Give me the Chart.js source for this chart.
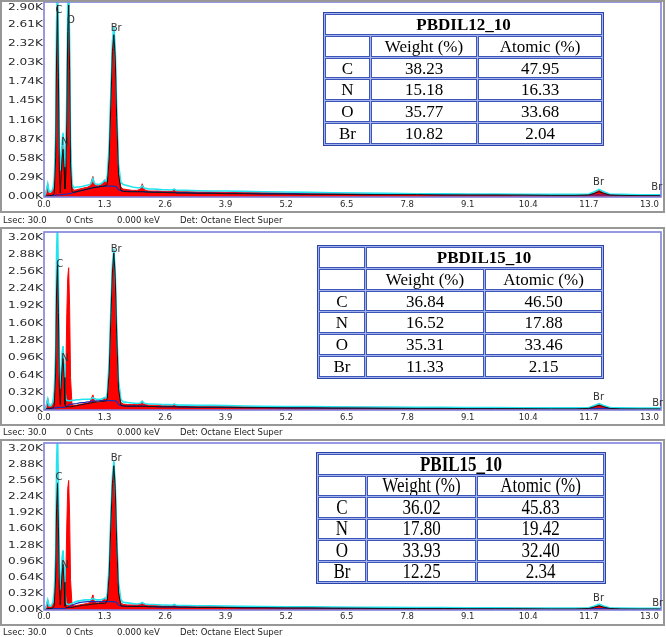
<!DOCTYPE html>
<html><head><meta charset="utf-8">
<script src="https://cdn.jsdelivr.net/npm/chart.js@4.4.0/dist/chart.umd.min.js"></script>
<style>
body{margin:0;background:#fff;}
#fig{position:relative;width:666px;height:637px;overflow:hidden;background:#fff;font-family:"DejaVu Sans",sans-serif;}
.frame{position:absolute;left:0;width:665px;border:2px solid #979797;box-sizing:border-box;pointer-events:none;}
canvas{position:absolute;left:0;}
.info{position:absolute;font-size:8.5px;color:#222;white-space:pre;line-height:10px;}
table.t{position:absolute;border-collapse:separate;border-spacing:1px;border:1px solid #2c44a8;background:#a3b3ec;font-family:"Liberation Serif","Times New Roman",serif;color:#000;table-layout:fixed;}
table.t td{border:1px solid #3d55b8;background:#fff;text-align:center;padding:0;line-height:1;white-space:nowrap;overflow:hidden;}
table.t td.title{font-weight:bold;}
table.t.tall td span{display:inline-block;transform:scaleY(1.25);}
</style></head>
<body><div id="fig"></div>
<script>
// ---------- data ----------
const energy = [0.00,0.04,0.08,0.11,0.15,0.19,0.22,0.25,0.27,0.29,
 0.31,0.33,0.35,0.37,0.39,0.41,0.43,0.45,0.47,0.49,
 0.51,0.53,0.55,0.57,0.60,0.64,0.70,0.76,0.82,0.88,
 0.94,0.99,1.02,1.05,1.08,1.12,1.17,1.22,1.26,1.30,
 1.33,1.36,1.40,1.44,1.47,1.50,1.53,1.56,1.60,1.65,
 1.70,1.80,1.90,2.00,2.07,2.11,2.14,2.18,2.25,2.35,
 2.45,2.55,2.65,2.75,2.80,2.84,2.90,3.05,3.30,3.60,
 3.90,4.30,4.70,5.20,5.70,6.20,6.80,7.40,8.00,8.60,
 9.10,9.70,10.30,10.90,11.40,11.70,11.82,11.92,12.02,12.15,
 12.40,12.80,13.25];

const xTickValues = [0,1.3,2.6,3.9,5.2,6.5,7.8,9.1,10.4,11.7,13.0];
const xTickLabels = ["0.0","1.3","2.6","3.9","5.2","6.5","7.8","9.1","10.4","11.7","13.0"];
const yTicks1 = [0,0.29,0.58,0.87,1.16,1.45,1.74,2.03,2.32,2.61,2.90];
const yTickLabels1 = ["0.00K","0.29K","0.58K","0.87K","1.16K","1.45K","1.74K","2.03K","2.32K","2.61K","2.90K"];
const yTicks23 = [0,0.32,0.64,0.96,1.28,1.60,1.92,2.24,2.56,2.88,3.20];
const yTickLabels23 = ["0.00K","0.32K","0.64K","0.96K","1.28K","1.60K","1.92K","2.24K","2.56K","2.88K","3.20K"];

// Panel 1 (PBDIL12_10), counts in K
const p1Spectrum = [0.00,0.06,0.20,0.05,0.06,0.10,0.22,0.85,2.35,2.98,
 2.05,0.65,0.35,0.50,0.70,0.80,0.55,0.35,0.55,1.40,
 2.65,2.98,2.15,0.75,0.15,0.10,0.11,0.12,0.13,0.14,
 0.15,0.17,0.24,0.31,0.20,0.17,0.17,0.18,0.21,0.26,
 0.21,0.28,0.70,1.60,2.25,2.50,2.15,1.30,0.45,0.15,
 0.12,0.11,0.10,0.10,0.12,0.20,0.14,0.10,0.09,0.09,
 0.09,0.085,0.085,0.085,0.12,0.085,0.08,0.08,0.075,0.075,
 0.07,0.07,0.065,0.06,0.06,0.055,0.05,0.05,0.045,0.045,
 0.04,0.035,0.035,0.03,0.03,0.035,0.07,0.10,0.07,0.035,
 0.03,0.025,0.025];
const p1Cyan = [0.00,0.06,0.20,0.08,0.08,0.12,0.25,0.95,2.65,3.20,
 2.35,0.75,0.40,0.60,0.85,0.97,0.70,0.40,0.65,1.60,
 2.85,3.20,2.35,0.85,0.20,0.14,0.15,0.15,0.16,0.17,
 0.18,0.19,0.22,0.28,0.21,0.19,0.19,0.20,0.22,0.25,
 0.24,0.32,0.80,1.70,2.35,2.58,2.25,1.40,0.50,0.22,
 0.19,0.17,0.15,0.14,0.14,0.17,0.14,0.13,0.12,0.12,
 0.115,0.11,0.11,0.105,0.12,0.10,0.10,0.10,0.095,0.09,
 0.09,0.085,0.08,0.075,0.07,0.065,0.06,0.055,0.05,0.05,
 0.045,0.045,0.04,0.04,0.04,0.045,0.08,0.115,0.08,0.045,
 0.04,0.035,0.035];
const p1Black = [0.00,0.01,0.02,0.02,0.02,0.03,0.05,0.60,2.10,2.90,
 1.80,0.40,0.06,0.35,0.60,0.72,0.45,0.12,0.35,1.15,
 2.50,2.90,1.90,0.50,0.08,0.07,0.08,0.09,0.10,0.11,
 0.12,0.13,0.13,0.14,0.14,0.15,0.15,0.16,0.16,0.17,
 0.17,0.20,0.60,1.50,2.20,2.45,2.10,1.20,0.35,0.10,
 0.085,0.08,0.08,0.08,0.08,0.08,0.08,0.075,0.075,0.07,
 0.07,0.07,0.065,0.065,0.065,0.06,0.06,0.06,0.055,0.055,
 0.05,0.05,0.045,0.045,0.04,0.04,0.035,0.035,0.035,0.03,
 0.03,0.03,0.03,0.025,0.025,0.03,0.055,0.08,0.055,0.03,
 0.025,0.02,0.02];
const p1Blue = [0.00,0.01,0.015,0.02,0.02,0.02,0.025,0.025,0.03,0.03,
 0.03,0.03,0.035,0.035,0.035,0.04,0.04,0.04,0.04,0.045,
 0.045,0.05,0.05,0.055,0.06,0.07,0.08,0.09,0.10,0.11,
 0.12,0.13,0.135,0.14,0.145,0.15,0.155,0.16,0.16,0.165,
 0.165,0.165,0.165,0.165,0.165,0.16,0.16,0.15,0.11,0.095,
 0.09,0.085,0.085,0.08,0.08,0.08,0.08,0.08,0.075,0.075,
 0.075,0.07,0.07,0.07,0.07,0.065,0.065,0.065,0.06,0.06,
 0.055,0.055,0.05,0.05,0.045,0.045,0.04,0.04,0.04,0.035,
 0.035,0.035,0.03,0.03,0.03,0.03,0.03,0.03,0.03,0.03,
 0.03,0.025,0.025];

// Panel 2 (PBDIL15_10)
const p2Spectrum = [0.00,0.05,0.22,0.06,0.06,0.12,0.25,0.90,2.30,2.76,
 1.90,0.50,0.30,0.60,0.90,1.00,0.70,0.35,0.70,1.80,
 2.45,2.63,1.90,0.60,0.12,0.08,0.09,0.10,0.11,0.12,
 0.13,0.15,0.22,0.28,0.18,0.14,0.14,0.15,0.19,0.24,
 0.19,0.28,0.80,1.90,2.60,2.94,2.50,1.50,0.50,0.14,
 0.11,0.10,0.10,0.10,0.12,0.17,0.13,0.10,0.09,0.09,
 0.085,0.08,0.08,0.08,0.11,0.08,0.075,0.075,0.07,0.07,
 0.065,0.065,0.06,0.055,0.055,0.05,0.05,0.045,0.045,0.04,
 0.04,0.035,0.035,0.03,0.03,0.035,0.075,0.11,0.075,0.035,
 0.03,0.025,0.025];
const p2Cyan = [0.00,0.05,0.20,0.08,0.08,0.14,0.35,1.10,2.90,3.50,
 2.40,0.70,0.40,0.75,1.05,1.18,0.85,0.35,0.20,0.18,
 0.17,0.17,0.17,0.17,0.18,0.18,0.19,0.19,0.20,0.20,
 0.20,0.20,0.21,0.23,0.21,0.20,0.20,0.20,0.21,0.23,
 0.22,0.33,0.90,2.00,2.70,2.98,2.55,1.60,0.55,0.20,
 0.15,0.14,0.13,0.12,0.13,0.16,0.13,0.12,0.11,0.11,
 0.105,0.10,0.10,0.095,0.11,0.095,0.09,0.09,0.085,0.085,
 0.08,0.075,0.07,0.065,0.065,0.06,0.055,0.055,0.05,0.05,
 0.045,0.045,0.04,0.04,0.04,0.045,0.085,0.12,0.085,0.045,
 0.04,0.035,0.035];
const p2Black = [0.00,0.01,0.03,0.03,0.03,0.04,0.08,0.70,2.20,2.70,
 1.80,0.40,0.10,0.50,0.80,0.95,0.60,0.10,0.06,0.06,
 0.06,0.06,0.06,0.06,0.06,0.07,0.08,0.09,0.10,0.11,
 0.12,0.13,0.13,0.14,0.14,0.15,0.15,0.16,0.16,0.16,
 0.17,0.22,0.70,1.80,2.55,2.90,2.45,1.40,0.40,0.09,
 0.075,0.07,0.07,0.07,0.07,0.07,0.07,0.07,0.065,0.065,
 0.06,0.06,0.06,0.06,0.06,0.06,0.055,0.055,0.05,0.05,
 0.05,0.045,0.045,0.04,0.04,0.035,0.035,0.03,0.03,0.03,
 0.025,0.025,0.025,0.02,0.02,0.03,0.06,0.085,0.06,0.03,
 0.02,0.02,0.02];
const p2Blue = [0.00,0.01,0.02,0.02,0.03,0.03,0.04,0.04,0.04,0.05,
 0.05,0.05,0.05,0.05,0.05,0.05,0.05,0.05,0.06,0.07,
 0.08,0.09,0.10,0.105,0.11,0.115,0.12,0.13,0.135,0.14,
 0.15,0.155,0.16,0.165,0.165,0.17,0.17,0.175,0.175,0.175,
 0.175,0.175,0.175,0.175,0.175,0.17,0.17,0.16,0.10,0.08,
 0.075,0.07,0.07,0.07,0.07,0.07,0.07,0.07,0.065,0.065,
 0.06,0.06,0.06,0.06,0.06,0.06,0.055,0.055,0.05,0.05,
 0.05,0.045,0.045,0.04,0.04,0.035,0.035,0.03,0.03,0.03,
 0.025,0.025,0.025,0.02,0.02,0.025,0.03,0.03,0.03,0.025,
 0.02,0.02,0.02];

// Panel 3 (PBIL15_10)
const p3Spectrum = [0.00,0.05,0.20,0.06,0.06,0.12,0.25,0.85,2.10,2.52,
 1.75,0.50,0.30,0.55,0.85,0.95,0.65,0.30,0.70,1.70,
 2.40,2.56,1.85,0.60,0.12,0.08,0.09,0.10,0.11,0.12,
 0.13,0.15,0.22,0.30,0.18,0.14,0.14,0.15,0.19,0.24,
 0.19,0.28,0.80,1.90,2.55,2.90,2.45,1.50,0.50,0.14,
 0.11,0.10,0.10,0.10,0.11,0.14,0.12,0.10,0.09,0.09,
 0.085,0.08,0.08,0.08,0.10,0.08,0.075,0.075,0.07,0.07,
 0.065,0.065,0.06,0.055,0.055,0.05,0.05,0.045,0.045,0.04,
 0.04,0.035,0.035,0.03,0.03,0.035,0.07,0.10,0.07,0.035,
 0.03,0.025,0.025];
const p3Cyan = [0.00,0.05,0.20,0.08,0.08,0.14,0.35,1.10,2.90,3.50,
 2.40,0.70,0.40,0.75,1.05,1.18,0.85,0.35,0.15,0.12,
 0.11,0.11,0.11,0.12,0.13,0.15,0.17,0.18,0.19,0.20,
 0.20,0.20,0.21,0.23,0.21,0.20,0.20,0.20,0.21,0.23,
 0.22,0.33,0.90,2.00,2.65,2.95,2.50,1.55,0.55,0.20,
 0.15,0.14,0.13,0.12,0.13,0.15,0.13,0.12,0.11,0.11,
 0.105,0.10,0.10,0.095,0.11,0.095,0.09,0.09,0.085,0.085,
 0.08,0.075,0.07,0.065,0.065,0.06,0.055,0.055,0.05,0.05,
 0.045,0.045,0.04,0.04,0.04,0.045,0.08,0.115,0.08,0.045,
 0.04,0.035,0.035];
const p3Black = [0.00,0.01,0.03,0.03,0.03,0.04,0.08,0.65,2.00,2.50,
 1.65,0.40,0.10,0.45,0.75,0.90,0.55,0.08,0.05,0.05,
 0.05,0.05,0.05,0.05,0.05,0.06,0.07,0.08,0.09,0.10,
 0.10,0.11,0.11,0.12,0.12,0.12,0.13,0.13,0.13,0.13,
 0.14,0.20,0.70,1.80,2.50,2.85,2.40,1.35,0.35,0.08,
 0.075,0.07,0.07,0.07,0.07,0.07,0.07,0.07,0.065,0.065,
 0.06,0.06,0.06,0.06,0.06,0.06,0.055,0.055,0.05,0.05,
 0.05,0.045,0.045,0.04,0.04,0.035,0.035,0.03,0.03,0.03,
 0.025,0.025,0.025,0.02,0.02,0.03,0.055,0.08,0.055,0.03,
 0.02,0.02,0.02];
const p3Blue = [0.00,0.01,0.02,0.02,0.03,0.03,0.03,0.03,0.03,0.03,
 0.03,0.03,0.03,0.03,0.03,0.03,0.03,0.03,0.035,0.04,
 0.05,0.06,0.07,0.08,0.09,0.11,0.13,0.145,0.155,0.16,
 0.165,0.165,0.165,0.165,0.165,0.165,0.165,0.165,0.165,0.165,
 0.165,0.165,0.165,0.165,0.165,0.16,0.16,0.15,0.10,0.08,
 0.075,0.07,0.07,0.07,0.07,0.07,0.07,0.07,0.065,0.065,
 0.06,0.06,0.06,0.06,0.06,0.06,0.055,0.055,0.05,0.05,
 0.05,0.045,0.045,0.04,0.04,0.035,0.035,0.03,0.03,0.03,
 0.025,0.025,0.025,0.02,0.02,0.025,0.03,0.03,0.03,0.025,
 0.02,0.02,0.02];

// Peak labels
const p1PeakNames = ["C","O","N","Br","Br","Br"];
const p1PeakE = [0.32,0.58,0.45,1.55,11.91,13.16];
const p1PeakK = [2.82,2.67,0.83,2.55,0.22,0.15];
const p2PeakNames = ["C","N","Br","Br","Br"];
const p2PeakE = [0.34,0.45,1.55,11.91,13.18];
const p2PeakK = [2.70,0.96,2.96,0.24,0.13];
const p3PeakNames = ["C","N","Br","Br","Br"];
const p3PeakE = [0.32,0.45,1.55,11.91,13.18];
const p3PeakK = [2.62,0.89,3.00,0.22,0.14];

// Tables
const tableElements = ["C","N","O","Br"];
const tableHeaders = ["Weight (%)","Atomic (%)"];
const t1Name = "PBDIL12_10";
const t1Weight = ["38.23","15.18","35.77","10.82"];
const t1Atomic = ["47.95","16.33","33.68","2.04"];
const t2Name = "PBDIL15_10";
const t2Weight = ["36.84","16.52","35.31","11.33"];
const t2Atomic = ["46.50","17.88","33.46","2.15"];
const t3Name = "PBIL15_10";
const t3Weight = ["36.02","17.80","33.93","12.25"];
const t3Atomic = ["45.83","19.42","32.40","2.34"];

const infoTexts = ["Lsec: 30.0","0 Cnts","0.000 keV","Det: Octane Elect Super"];

// ---------- layout ----------
const X_MAX = 13.25;
const fig = document.getElementById('fig');

const boxPlugin = {id:'plotBox', afterDatasetsDraw(chart){
  const a = chart.chartArea, ctx = chart.ctx;
  ctx.save(); ctx.strokeStyle='#7f80dc'; ctx.lineWidth=1.6;
  ctx.strokeRect(a.left, a.top, a.right-a.left, a.bottom-a.top); ctx.restore();
}};
const peakPlugin = {id:'peakLabels', afterDatasetsDraw(chart, args, opts){
  const ctx = chart.ctx, x = chart.scales.x, y = chart.scales.y;
  ctx.save(); ctx.font='10px "DejaVu Sans"'; ctx.fillStyle='#333';
  ctx.textAlign='center'; ctx.textBaseline='middle';
  opts.names.forEach((n,i)=>ctx.fillText(n, x.getPixelForValue(opts.e[i]), y.getPixelForValue(opts.k[i])));
  ctx.restore();
}};
// y tick labels drawn horizontally stretched, as in the original software output
const yLabelPlugin = {id:'yLabels', afterDraw(chart, args, opts){
  const ctx = chart.ctx, y = chart.scales.y, left = chart.chartArea.left, top = chart.chartArea.top;
  ctx.save(); ctx.font='9px "DejaVu Sans"'; ctx.fillStyle='#2a2a2a';
  ctx.textAlign='right'; ctx.textBaseline='middle';
  opts.values.forEach((v,i)=>{
    ctx.save(); ctx.translate(left-1, Math.max(y.getPixelForValue(v), top+6)); ctx.scale(1.35,1);
    ctx.fillText(opts.labels[i],0,0); ctx.restore();
  });
  ctx.restore();
}};

function makePanel(p){
  const fr = document.createElement('div'); fr.className='frame';
  fr.style.top=p.top+'px'; fr.style.height=p.height+'px';
  const cv = document.createElement('canvas');
  cv.width=665; cv.height=p.height; cv.style.top=p.top+'px';
  cv.style.width='665px'; cv.style.height=p.height+'px';
  fig.appendChild(cv); fig.appendChild(fr);
  const ds = (vals,color,w,fill,order)=>({
    data: energy.map((e,i)=>({x:e,y:vals[i]})),
    borderColor:color, backgroundColor:color, borderWidth:w,
    fill: fill?'origin':false, pointRadius:0, tension:0, order:order
  });
  new Chart(cv,{
    type:'line',
    data:{datasets:[
      ds(p.spectrum,'#ff0000',1,true,4),
      ds(p.blue,'#1c2db5',1.2,false,3),
      ds(p.cyan,'#22e4f0',1.6,false,2),
      ds(p.black,'#141414',1,false,1)
    ]},
    options:{
      responsive:false, animation:false, devicePixelRatio:1,
      layout:{padding:{top:p.plotTop,right:4,left:0,bottom:0}},
      plugins:{legend:{display:false},tooltip:{enabled:false},
        peakLabels:{names:p.peakNames,e:p.peakE,k:p.peakK},
        yLabels:{values:p.yTicks,labels:p.yLabels}},
      scales:{
        x:{type:'linear',min:0,max:X_MAX,
          grid:{display:false,drawTicks:false},border:{display:false},
          afterBuildTicks:s=>{s.ticks=xTickValues.map(v=>({value:v}));},
          afterFit:s=>{s.height=p.height-p.plotBottom;s.paddingLeft=0;s.paddingRight=0;},
          ticks:{autoSkip:false,maxRotation:0,minRotation:0,padding:p.xPad,color:'#2a2a2a',
            font:{family:'DejaVu Sans',size:8.5},callback:(v,i)=>xTickLabels[i]}},
        y:{min:0,max:p.yMax,
          grid:{display:false,drawTicks:false},border:{display:false},
          afterBuildTicks:s=>{s.ticks=p.yTicks.map(v=>({value:v}));},
          afterFit:s=>{s.width=44;s.paddingTop=0;s.paddingBottom=0;},
          ticks:{display:false}}
      }
    },
    plugins:[boxPlugin,peakPlugin,yLabelPlugin]
  });
  const infoX=[3,66,117,180];
  infoTexts.forEach((t,i)=>{
    const d=document.createElement('div'); d.className='info';
    d.style.left=infoX[i]+'px'; d.style.top=p.infoTop+'px'; d.textContent=t; fig.appendChild(d);
  });
}

function makeTable(t){
  const tb=document.createElement('table'); tb.className='t'+(t.tall?' tall':'');
  Object.assign(tb.style,{left:t.left+'px',top:t.top+'px',width:t.width+'px',height:t.height+'px',fontSize:t.font+'px'});
  const cg=document.createElement('colgroup');
  t.cols.forEach(w=>{const c=document.createElement('col');c.style.width=w+'px';cg.appendChild(c);});
  tb.appendChild(cg);
  const wrap=s=>'<span>'+s+'</span>';
  let h='<tr>';
  if(t.titleOffset){h+='<td></td><td colspan="2" class="title">'+wrap(t.name)+'</td>';}
  else{h+='<td colspan="3" class="title">'+wrap(t.name)+'</td>';}
  h+='</tr><tr><td></td><td>'+wrap(tableHeaders[0])+'</td><td>'+wrap(tableHeaders[1])+'</td></tr>';
  tableElements.forEach((el,i)=>{h+='<tr><td>'+wrap(el)+'</td><td>'+wrap(t.weight[i])+'</td><td>'+wrap(t.atomic[i])+'</td></tr>';});
  tb.insertAdjacentHTML('beforeend',h);
  fig.appendChild(tb);
}

makePanel({top:0,height:213,plotTop:2,plotBottom:197,xPad:3,yMax:2.945,yTicks:yTicks1,yLabels:yTickLabels1,
  spectrum:p1Spectrum,cyan:p1Cyan,black:p1Black,blue:p1Blue,peakNames:p1PeakNames,peakE:p1PeakE,peakK:p1PeakK,infoTop:215});
makePanel({top:227,height:199,plotTop:5,plotBottom:183,xPad:3,yMax:3.29,yTicks:yTicks23,yLabels:yTickLabels23,
  spectrum:p2Spectrum,cyan:p2Cyan,black:p2Black,blue:p2Blue,peakNames:p2PeakNames,peakE:p2PeakE,peakK:p2PeakK,infoTop:427});
makePanel({top:439,height:187,plotTop:4,plotBottom:171,xPad:2,yMax:3.30,yTicks:yTicks23,yLabels:yTickLabels23,
  spectrum:p3Spectrum,cyan:p3Cyan,black:p3Black,blue:p3Blue,peakNames:p3PeakNames,peakE:p3PeakE,peakK:p3PeakK,infoTop:627});

makeTable({left:323,top:12,width:275,height:134,cols:[45,106,124],font:17,name:t1Name,weight:t1Weight,atomic:t1Atomic});
makeTable({left:317,top:245,width:281,height:134,cols:[46,118,117],font:17,titleOffset:true,name:t2Name,weight:t2Weight,atomic:t2Atomic});
makeTable({left:316,top:452,width:284,height:132,cols:[48,109,127],font:17,tall:true,name:t3Name,weight:t3Weight,atomic:t3Atomic});
</script></body></html>
